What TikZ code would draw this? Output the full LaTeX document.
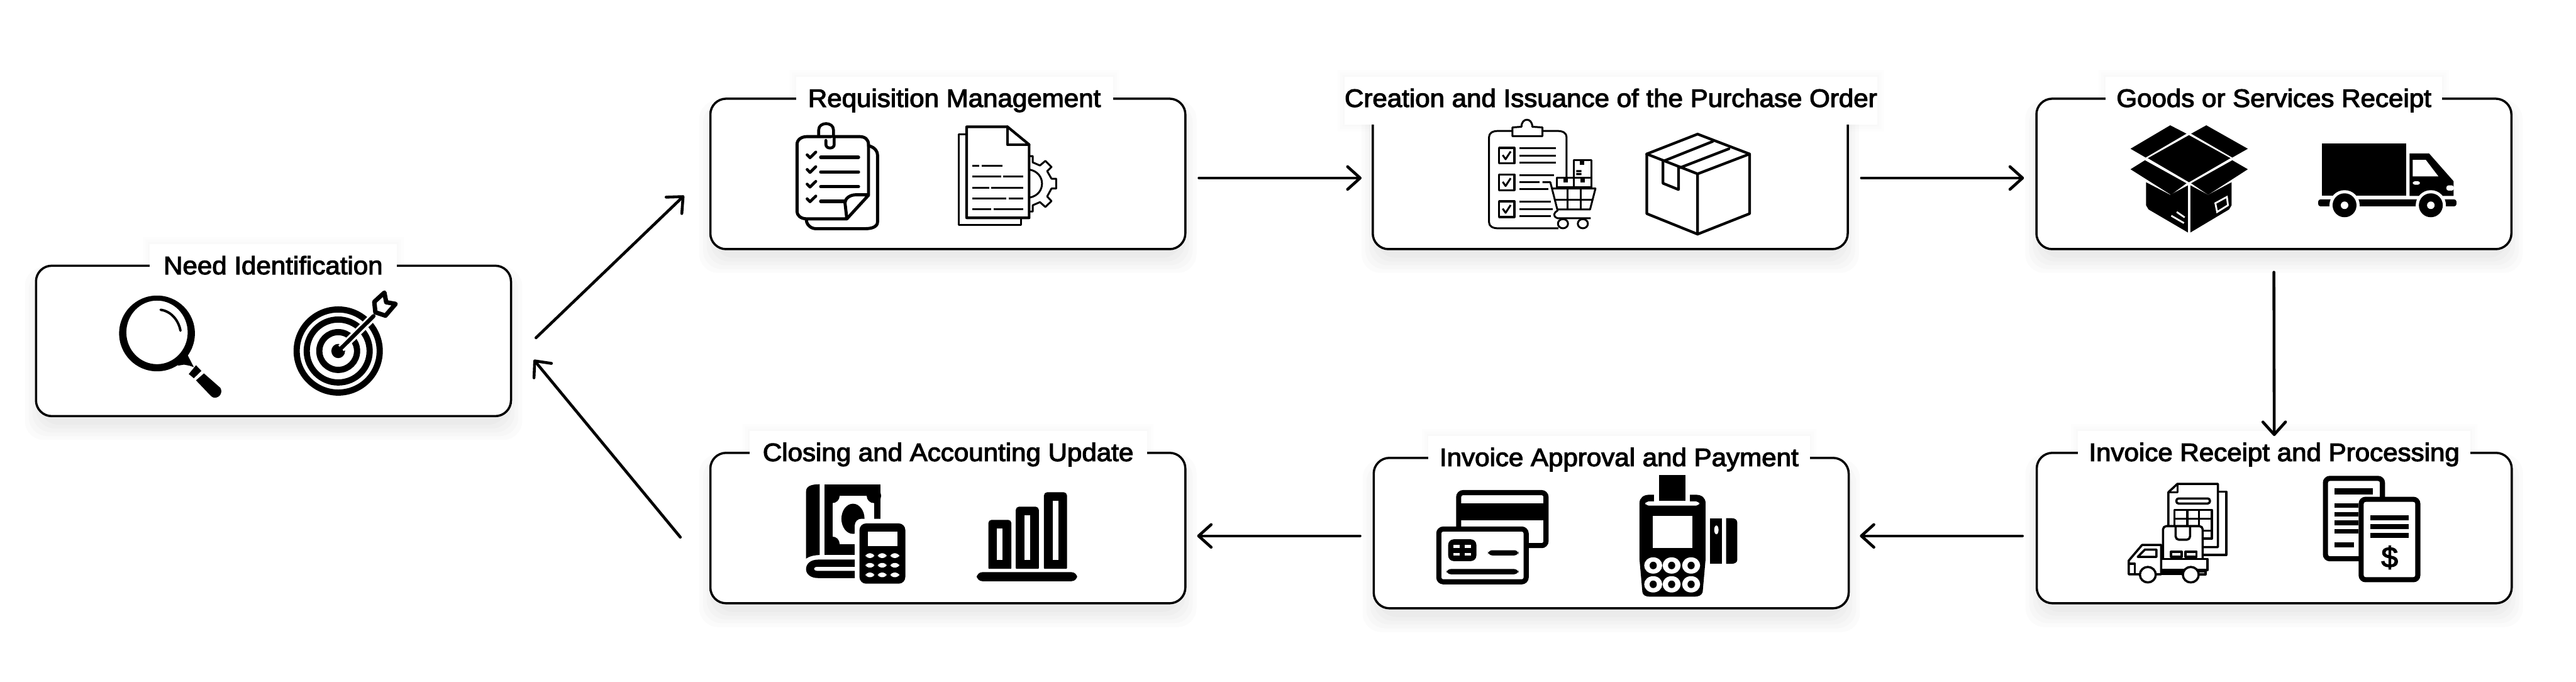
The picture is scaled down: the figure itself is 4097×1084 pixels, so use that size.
\documentclass[tikz,border=0pt]{standalone}
\usepackage{xcolor}
\usepackage{fontspec}
\newfontfamily\titlefont[FakeBold=3,FakeStretch=1.05]{Liberation Sans}
\usetikzlibrary{arrows.meta,calc,backgrounds}

\tikzset{
	flowbox/.style={draw=black,fill=white,line width=1pt,rounded corners=0.25cm,minimum width=7.55cm,minimum height=2.39cm},
	titlebox/.style={fill=white,inner sep=0pt,minimum height=0.76cm,text height=0.28cm,text depth=0.08cm,font=\titlefont\fontsize{11.4}{13}\selectfont},
	flow/.style={line width=1.3pt,line cap=round,-{Straight Barb[round,length=0.2cm,width=0.36cm]}},
	zoomed/.style 2 args={shift={(#1,#2)},x=0.00574cm,y=-0.00333cm},
	ln/.style={draw=black,line width=1.2pt,line join=round,line cap=round},
	ltn/.style={draw=black,line width=0.85pt,line join=round,line cap=butt},
	wh/.style={fill=white},
}

\begin{document}
\begin{tikzpicture}[x=0.01cm,y=-0.01cm]
	\useasboundingbox (0,0) rectangle (4097,1084);

	% boxes
	\node[flowbox] (need) at (435,542){};
	\node[flowbox] (requisition) at (1507.5,276.5){};
	\node[flowbox] (creation) at (2561,276.5){};
	\node[flowbox] (goods) at (3616.5,276.5){};
	\node[flowbox] (invoicerec) at (3617,839.5){};
	\node[flowbox] (approval) at (2562.5,847.5){};
	\node[flowbox] (closing) at (1507.5,839.5){};

	% titles
	\node[titlebox,minimum width=3.93cm] (needtitle) at (434.5,426) {Need Identification};
	\node[titlebox,minimum width=5.04cm] (requisitiontitle) at (1518,160) {Requisition Management};
	\node[titlebox,minimum width=7.98cm] (creationtitle) at (2562,160) {Creation and Issuance of the Purchase Order};
	\node[titlebox,minimum width=5.35cm] (goodstitle) at (3616.5,160) {Goods or Services Receipt};
	\node[titlebox,minimum width=6.24cm] (invoicerectitle) at (3617,723) {Invoice Receipt and Processing};
	\node[titlebox,minimum width=6.06cm] (approvaltitle) at (2575,731) {Invoice Approval and Payment};
	\node[titlebox,minimum width=6.32cm] (closingtitle) at (1508,723) {Closing and Accounting Update};

	% soft shadows
	\begin{scope}[on background layer]
		\foreach \n in {need,requisition,creation,goods,invoicerec,approval,closing}
			\foreach \g in {-8,-2,4,10,16}
				\fill[black,opacity=0.016,rounded corners=0.3cm] ($(\n.south west)+(-\g,\g+20)$) rectangle ($(\n.north east)+(\g,-\g+20)$);
		\foreach \n in {needtitle,requisitiontitle,creationtitle,goodstitle,invoicerectitle,approvaltitle,closingtitle}
			\foreach \g in {2,6,10}
				\fill[black,opacity=0.006] ($(\n.south west)+(-\g,\g)$) rectangle ($(\n.north east)+(\g,-\g)$);
	\end{scope}

	% arrows
	\draw[flow] ($(need.east)+(38,-5)$) -- ($(requisition.west)+(-40,34.5)$);
	\draw[flow] ($(requisition.east)+(20,6.5)$) -- ($(creation.west)+(-16,6.5)$);
	\draw[flow] ($(creation.east)+(20,6.5)$) -- ($(goods.west)+(-18,6.5)$);
	\draw[flow] ($(goods.south)+(0,35)$) -- ($(invoicerec.north)+(0,-25)$);
	\draw[flow] ($(invoicerec.west)+(-21,12.5)$) -- ($(approval.east)+(16,4.5)$);
	\draw[flow] ($(approval.west)+(-20,4.5)$) -- ($(closing.east)+(17,12.5)$);
	\draw[flow] ($(closing.west)+(-46,14.5)$) -- ($(need.east)+(34.5,30)$);

	% need identification icons
	\begin{scope}[zoomed={0}{380}]
		\fill[even odd rule] (435,451) ellipse [x radius=105,y radius=181] (435,446) ellipse [x radius=85,y radius=152];
		\fill (492,605) -- (520,555) -- (537,612) -- (525,605) -- (510,600) -- cycle;
		\draw[line width=1.1pt,line cap=round] (445,338) .. controls (475,345) and (495,390) .. (500,438);
		\fill (543,603) -- (558,630) -- (537,665) -- (523,645) -- cycle;
		\fill (543,675) -- (565,642) -- (610,710) .. controls (618,730) and (610,758) .. (595,758) .. controls (588,758) and (585,750) .. (580,742) -- cycle;
		\foreach \r in {0.66,0.5,0.3}
			\draw[line width=2.8pt] (937,535) circle [radius=\r cm];
		\fill (937,535) ellipse [x radius=19,y radius=34];
		\draw[white,line width=3.6pt] (1035,370) -- (945,522);
		\draw[line width=1.8pt,line cap=round] (945,522) -- (1035,368);
		\draw[ln,wh,line width=2pt] (1037,300) -- (1065,256) -- (1070,302) -- (1096,310) -- (1068,366) -- (1040,350) -- cycle;
	\end{scope}

	% requisition icons
	\begin{scope}[zoomed={1100}{120}]
		\draw[ln,line width=1.4pt] (490,335) .. controls (510,345) and (515,365) .. (515,380) -- (515,700) .. controls (515,722) and (500,732) .. (480,732) -- (345,732) .. controls (330,732) and (318,712) .. (318,690);
		\draw[ln,line width=1.4pt] (430,685) -- (320,685) .. controls (300,685) and (292,665) .. (292,650) -- (292,330) .. controls (292,305) and (305,292) .. (320,292) -- (465,292) .. controls (480,292) and (490,305) .. (490,330) -- (490,572) -- (430,685) -- (425,610) .. controls (425,585) and (440,570) .. (455,570) -- (490,570);
		\draw[ln,wh,line width=1.3pt] (395,295) -- (395,330) .. controls (395,352) and (372,352) .. (372,330) -- (372,310);
		\draw[ln,line width=1.3pt] (352,290) -- (352,260) .. controls (352,220) and (393,220) .. (393,260) -- (393,290);
		\foreach \ya/\xb in {391/462,461/462,531/462,601/425}{
			\draw[ln,line width=1.6pt] (358,\ya) -- (\xb,\ya);
			\draw[ln,line width=1.3pt] (320,\ya-12) -- (328,\ya+2) -- (344,\ya-25);
		}
		\draw[ltn] (762,282) -- (740,282) -- (740,715) -- (912,715) -- (912,680);
		\draw[ln] (762,245) -- (875,245) -- (935,330) -- (935,680) -- (762,680) -- cycle;
		\draw[ln] (875,245) -- (875,330) -- (935,330);
		\foreach \ya/\xa/\xb in {431/778/797,431/803/862,483/778/857,483/863/918,536/778/825,536/830/918,588/778/872,588/878/918,640/778/830,640/836/918}
			\draw[ltn] (\xa,\ya) -- (\xb,\ya);
		\draw[ltn] (937,385) -- (945,385) -- (945,415) -- (965,430) -- (980,408) -- (997,437) -- (985,457) -- (997,493) -- (1010,493) -- (1010,540) -- (997,540) -- (985,578) -- (997,600) -- (980,628) -- (965,605) -- (945,620) -- (945,650) -- (937,650);
		\draw[ltn] (937,450) .. controls (982,465) and (982,568) .. (937,583);
	\end{scope}

	% purchase order icons
	\begin{scope}[zoomed={2150}{120}]
		\draw[ltn,line join=round] (595,490) -- (595,295) .. controls (595,275) and (585,265) .. (570,265) -- (528,265);
		\draw[ltn] (445,265) -- (405,265) .. controls (390,265) and (380,275) .. (380,295) -- (380,700) .. controls (380,720) and (390,730) .. (405,730) -- (572,730);
		\draw[ltn] (445,248) -- (470,245) .. controls (470,200) and (500,200) .. (500,245) -- (528,248) -- (528,290) -- (445,290) -- cycle;
		\foreach \ya in {345,473,601}{
			\draw[ltn,line width=1pt] (408,\ya) rectangle (450,\ya+75);
			\draw[ltn] (418,\ya+35) -- (426,\ya+55) -- (440,\ya+18);
		}
		\foreach \xa/\xb/\ya in {465/565/348,465/565/382,465/565/416,465/560/476,465/520/510,465/545/544,465/552/604,465/557/638,465/552/672}
			\draw[ltn] (\xa,\ya) -- (\xb,\ya);
		\draw[ltn] (528,510) -- (550,510) -- (570,645) .. controls (560,655) and (555,672) .. (570,682) -- (662,682);
		\draw[ltn] (555,540) -- (675,540) -- (660,640) -- (568,640);
		\draw[ltn] (597,540) -- (597,640) (635,540) -- (635,640) (560,595) -- (668,595);
		\draw[ltn,wh] (585,708) ellipse [x radius=14,y radius=22];
		\draw[ltn,wh] (640,708) ellipse [x radius=14,y radius=22];
		\draw[ltn] (568,487) rectangle (615,535);
		\draw[ltn] (615,487) rectangle (663,535);
		\draw[ltn] (615,403) rectangle (663,487);
		\foreach \xa/\ya in {592/490,640/490,638/406}
			\fill (\xa-6,\ya) rectangle (\xa+6,\ya+22);
		\fill (622,452) rectangle (636,462) (622,466) rectangle (636,476);
		\draw[ln] (817,375) -- (958,280) -- (1102,375) -- (1102,660) -- (958,758) -- (817,660) -- cycle;
		\draw[ln] (817,375) -- (958,470) -- (1102,375) (958,470) -- (958,758);
		\draw[ln] (862,410) -- (1000,315) (910,440) -- (1045,350);
		\draw[ln] (862,410) -- (862,515) -- (905,545) -- (905,440);
	\end{scope}

	% goods receipt icons
	\begin{scope}[zoomed={3199}{120}]
		\fill (330,350) -- (440,238) -- (485,278) -- (372,392) -- cycle;
		\fill (540,238) -- (655,350) -- (612,392) -- (498,278) -- cycle;
		\fill (492,285) -- (607,395) -- (492,510) -- (378,395) -- cycle;
		\fill (330,448) -- (370,405) -- (485,515) -- (442,570) -- cycle;
		\fill (655,448) -- (612,405) -- (498,515) -- (545,570) -- cycle;
		\fill (373,510) -- (440,570) -- (489,525) -- (489,750) -- (380,640) -- (373,620) -- cycle;
		\fill (496,525) -- (545,570) -- (610,510) -- (610,620) -- (603,640) -- (496,750) -- cycle;
		\draw[white,line width=0.8pt] (565,610) -- (597,580) -- (600,620) -- (570,652) -- cycle;
		\draw[white,line width=0.8pt] (458,652) -- (480,678) (443,670) -- (478,705);
		\fill (860,326) rectangle (1093,575);
		\fill (1103,372) -- (1157,372) -- (1225,505) -- (1225,575) -- (1103,575) -- cycle;
		\fill[white] (1112,403) -- (1148,403) -- (1183,482) -- (1112,482) -- cycle;
		\fill[white,rounded corners=1pt] (1112,505) rectangle (1132,522);
		\fill[white,rounded corners=1pt] (1205,525) rectangle (1226,550);
		\fill[rounded corners=1pt] (850,592) rectangle (1233,625);
		\foreach \xa in {923,1162}{
			\fill[white] (\xa,620) circle [radius=0.24cm];
			\fill (\xa,620) circle [radius=0.19cm];
			\fill[white] (\xa,620) circle [radius=0.06cm];
		}
	\end{scope}

	% invoice receipt icons
	\begin{scope}[zoomed={3199}{690}]
		\draw[ltn,line width=1pt] (572,275) -- (595,275) -- (595,578) -- (530,578);
		\draw[ltn,line width=1pt] (530,540) -- (572,540) -- (572,238) -- (460,238) -- (435,278) -- (435,440);
		\draw[ltn] (435,278) -- (460,278) -- (460,238);
		\draw[ltn,line width=1pt,rounded corners=1pt] (457,308) rectangle (550,332);
		\draw[ltn,line width=1pt] (452,440) -- (452,363) -- (555,363) -- (555,500) -- (530,500);
		\draw[ltn,line width=1pt] (452,405) -- (555,405) (530,462) -- (555,462) (487,363) -- (487,440) (520,363) -- (520,440);
		\draw[ltn,line width=1pt,wh,rounded corners=1.5pt] (420,597) -- (420,440) -- (530,440) -- (530,597);
		\draw[ltn,line width=1pt,rounded corners=1.5pt] (455,445) -- (455,505) -- (495,505) -- (495,445);
		\draw[ltn,line width=1pt] (442,562) rectangle (472,587) (482,562) rectangle (513,587);
		\draw[ltn,line width=1pt] (415,597) -- (543,597) -- (543,650) -- (415,650);
		\draw[ltn,line width=1pt,wh] (325,605) -- (362,530) -- (415,530) -- (415,670) -- (325,670) -- cycle;
		\draw[ltn,line width=1pt] (350,587) -- (370,552) -- (402,552) -- (402,587) -- cycle;
		\draw[ltn,line width=1pt] (325,620) -- (342,620) -- (342,670);
		\draw[ltn,line width=1pt] (415,658) -- (478,658) (415,668) -- (478,668) (515,655) -- (538,655) -- (538,670) -- (515,670);
		\draw[ltn,line width=1pt,wh] (378,672) ellipse [x radius=22,y radius=37];
		\draw[ltn,line width=1pt,wh] (497,672) ellipse [x radius=22,y radius=37];
		\draw[line width=2.3pt,rounded corners=2pt] (870,212) rectangle (1028,596);
		\foreach \ya/\yb/\xb in {260/288/1002,330/352/962,372/395/962,412/436/962,454/476/962,517/540/950}
			\fill (895,\ya) rectangle (\xb,\yb);
		\draw[line width=2.3pt,rounded corners=2pt,wh] (969,312) rectangle (1126,696);
		\foreach \ya in {388,430,472}
			\fill (995,\ya) rectangle (1101,\ya+24);
		\node[font=\titlefont\fontsize{13}{13}\selectfont,inner sep=0pt] (dollar) at (1048,590) {\$};
	\end{scope}

	% approval icons
	\begin{scope}[zoomed={2150}{690}]
		\draw[line width=2.3pt,rounded corners=2pt] (296,280) rectangle (538,533);
		\fill (296,332) rectangle (538,412);
		\draw[line width=2.3pt,rounded corners=2pt,wh] (241,454) rectangle (483,706);
		\fill[rounded corners=2.5pt] (267,503) rectangle (345,607);
		\foreach \xa/\ya in {281/528,313/528,281/567,313/567}
			\fill[white] (\xa,\ya) rectangle (\xa+18,\ya+15);
		\fill[rounded corners=2pt] (377,555) rectangle (462,580);
		\fill[rounded corners=2pt] (262,645) rectangle (462,670);
		\fill (797,330) .. controls (797,305) and (808,290) .. (825,290) -- (952,290) .. controls (970,290) and (980,305) .. (980,330) -- (980,600) -- (972,755) .. controls (970,770) and (960,777) .. (950,777) -- (825,777) .. controls (815,777) and (806,770) .. (805,755) -- (797,600) -- cycle;
		\fill[white,rounded corners=1.5pt] (813,322) rectangle (963,342);
		\fill[white] (838,285) rectangle (937,325);
		\fill (851,195) rectangle (924,320);
		\fill[white] (833,391) rectangle (943,545);
		\foreach \ya in {628,718}
			\foreach \xa in {835,886,940}{
				\fill[white] (\xa,\ya) ellipse [x radius=25,y radius=39];
				\fill (\xa,\ya) ellipse [x radius=10,y radius=18];
			}
		\fill (992,402) rectangle (1026,620);
		\fill[white] (1010,458) ellipse [x radius=6,y radius=21];
		\fill (1037,402) -- (1052,402) .. controls (1062,402) and (1068,410) .. (1068,425) -- (1068,600) .. controls (1068,612) and (1062,620) .. (1052,620) -- (1037,620) -- cycle;
	\end{scope}

	% closing icons
	\begin{scope}[zoomed={1100}{690}]
		\fill (355,240) .. controls (330,240) and (317,250) .. (317,275) -- (317,595) .. controls (325,585) and (340,578) .. (355,578) -- cycle;
		\fill (368,240) rectangle (523,578);
		\fill[white] (390,295) rectangle (505,525);
		\foreach \xa/\ya in {390/295,505/295,390/525}
			\fill (\xa,\ya) ellipse [x radius=20,y radius=35];
		\fill (447,405) ellipse [x radius=32,y radius=72];
		\fill[white,rounded corners=3pt] (452,405) rectangle (610,725);
		\fill[white] (368,578) rectangle (470,600);
		\fill (452,600) -- (350,600) .. controls (330,600) and (317,620) .. (317,645) .. controls (317,670) and (330,688) .. (350,688) -- (452,688) -- (452,654) -- (350,654) .. controls (335,654) and (335,634) .. (350,634) -- (452,634) -- cycle;
		\fill[rounded corners=3pt] (465,427) rectangle (592,715);
		\fill[white] (488,467) rectangle (570,534);
		\foreach \ya in {581,627,673}
			\foreach \xa in {494,528,563}
				\fill[white,rounded corners=1.5pt] (\xa-12,\ya-11) rectangle (\xa+12,\ya+11);
		\foreach \xa/\ya in {822/410,898/347,976/278}{
			\fill[rounded corners=1.5pt] (\xa,\ya) rectangle (\xa+64,655);
			\fill[white] (\xa+24,\ya+42) rectangle (\xa+40,603);
		}
		\fill[white] (800,645) rectangle (1060,660);
		\fill[rounded corners=2.5pt] (790,660) rectangle (1068,703);
	\end{scope}
\end{tikzpicture}
\end{document}
